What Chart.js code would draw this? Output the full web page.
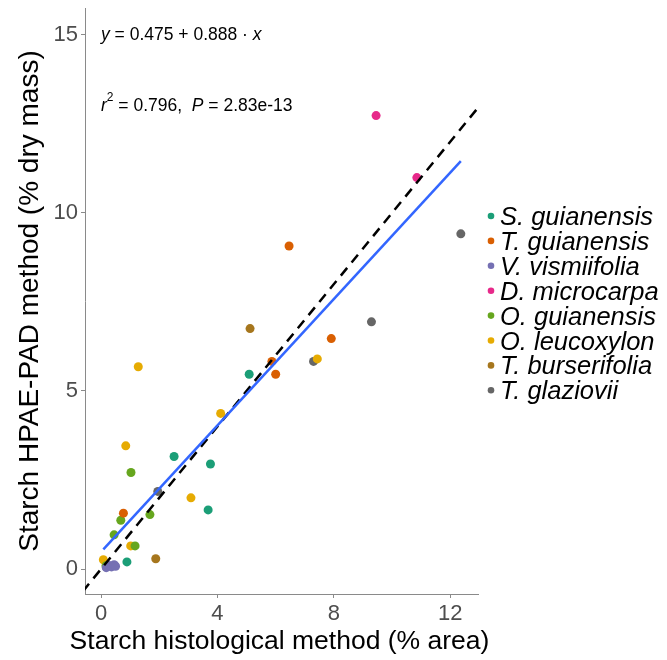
<!DOCTYPE html>
<html lang="en">

<head>
    <meta charset="UTF-8">
    <title>Starch methods</title>
    <script src="https://cdn.jsdelivr.net/npm/chart.js"></script>
    <style>
        body { margin: 0; background: #fff; }
    </style>
</head>

<body>
    <canvas id="myChart" width="667" height="660"></canvas>

    <script>
        // species names + colours (Dark2)
        const species = ['S. guianensis', 'T. guianensis', 'V. vismiifolia', 'D. microcarpa',
            'O. guianensis', 'O. leucoxylon', 'T. burserifolia', 'T. glaziovii'];
        const colors = ['#1B9E77', '#D95F02', '#7570B3', '#E7298A', '#66A61E', '#E6AB02', '#A6761D', '#666666'];

        // x = histological (% area), y = HPAE-PAD (% dry mass)
        const sGuianX = [2.51, 3.76, 3.68, 0.89, 5.09];
        const sGuianY = [3.16, 2.95, 1.66, 0.20, 5.47];
        const tGuianX = [6.46, 5.87, 6.00, 7.91, 0.77];
        const tGuianY = [9.07, 5.83, 5.47, 6.47, 1.57];
        const vVismX = [0.18, 0.28, 0.36, 0.45, 0.50];
        const vVismY = [0.04, 0.10, 0.06, 0.12, 0.08];
        const dMicroX = [9.45, 10.85];
        const dMicroY = [12.73, 10.99];
        const oGuianX = [1.03, 1.68, 0.68, 0.45, 1.17, 0.17];
        const oGuianY = [2.71, 1.53, 1.37, 0.96, 0.65, 0.09];
        const oLeucoX = [1.28, 0.85, 4.11, 3.09, 1.02, 0.08, 7.43];
        const oLeucoY = [5.68, 3.46, 4.37, 2.00, 0.65, 0.26, 5.90];
        const tBursX = [5.12, 1.88];
        const tBursY = [6.75, 0.29];
        const tGlazX = [12.36, 9.29, 7.30, 1.95];
        const tGlazY = [9.41, 6.94, 5.83, 2.18];

        const seriesX = [sGuianX, tGuianX, vVismX, dMicroX, oGuianX, oLeucoX, tBursX, tGlazX];
        const seriesY = [sGuianY, tGuianY, vVismY, dMicroY, oGuianY, oLeucoY, tBursY, tGlazY];

        // fitted line ends, and the 1:1 line
        const fitX = [0.08, 12.36];
        const fitY = [0.55, 11.45];
        const oneToOne = [-1, 16];

        const xTicks = [0, 4, 8, 12];
        const yTicks = [0, 5, 10, 15];

        const xTitle = 'Starch histological method (% area)';
        const yTitle = 'Starch HPAE-PAD method (% dry mass)';
        const eqLine1 = [['y', true], [' = 0.475 + 0.888 \u00b7 ', false], ['x', true]];
        const eqLine2 = [['r', true], ['2', false, 'sup'], [' = 0.796,  ', false], ['P', true], [' = 2.83e-13', false]];

        const axisGrey = '#8a8a8a';
        const tickGrey = '#4d4d4d';
        const fontFam = '"Liberation Sans", Arial, sans-serif';

        function zip(xs, ys) {
            return xs.map((x, i) => ({ x: x, y: ys[i] }));
        }

        const datasets = [
            {
                type: 'line',
                label: 'fit',
                data: zip(fitX, fitY),
                borderColor: '#3366FF',
                borderWidth: 2.5,
                pointRadius: 0,
                order: 0
            },
            {
                type: 'line',
                label: '1:1',
                data: zip(oneToOne, oneToOne),
                borderColor: '#000',
                borderWidth: 2.5,
                borderDash: [10, 7],
                pointRadius: 0,
                order: 0
            }
        ];
        species.forEach((name, i) => {
            datasets.push({
                label: name,
                data: zip(seriesX[i], seriesY[i]),
                backgroundColor: colors[i],
                borderWidth: 0,
                pointRadius: 4.5,
                order: 1
            });
        });

        // equation text, x title + legend drawn by hand
        const extras = {
            id: 'extras',
            afterDraw(chart) {
                const ctx = chart.ctx;
                const xs = chart.scales.x, ys = chart.scales.y;
                const area = chart.chartArea;

                function drawRich(parts, x, y) {
                    ctx.textBaseline = 'middle';
                    ctx.textAlign = 'left';
                    ctx.fillStyle = '#000';
                    parts.forEach(p => {
                        const sup = p[2] === 'sup';
                        ctx.font = (p[1] ? 'italic ' : '') + (sup ? '12px ' : '17.5px ') + fontFam;
                        ctx.fillText(p[0], x, sup ? y - 8 : y);
                        x += ctx.measureText(p[0]).width;
                    });
                }
                ctx.save();
                drawRich(eqLine1, xs.getPixelForValue(0), ys.getPixelForValue(15));
                drawRich(eqLine2, xs.getPixelForValue(0), ys.getPixelForValue(13));

                // x title (no maxWidth squeeze)
                ctx.font = '26.5px ' + fontFam;
                ctx.fillStyle = '#000';
                ctx.textAlign = 'center';
                ctx.textBaseline = 'middle';
                ctx.fillText(xTitle, (area.left + area.right) / 2 - 2, 642);

                // legend
                const lx = 491, ly0 = 216, step = 24.9;
                ctx.textAlign = 'left';
                species.forEach((name, i) => {
                    const y = ly0 + i * step;
                    ctx.fillStyle = colors[i];
                    ctx.beginPath();
                    ctx.arc(lx, y, 3.3, 0, Math.PI * 2);
                    ctx.fill();
                    ctx.fillStyle = '#000';
                    ctx.font = 'italic 25.5px ' + fontFam;
                    ctx.fillText(name, lx + 9, y + 2);
                });
                ctx.restore();
            }
        };

        const ctx = document.getElementById('myChart');
        new Chart(ctx, {
            type: 'scatter',
            data: { datasets: datasets },
            options: {
                responsive: false,
                animation: false,
                devicePixelRatio: 1,
                layout: { padding: { left: 0, right: 189, top: 8, bottom: 0 } },
                plugins: {
                    legend: { display: false },
                    tooltip: { enabled: false }
                },
                scales: {
                    x: {
                        type: 'linear',
                        min: -0.55,
                        max: 12.95,
                        afterBuildTicks: (s) => { s.ticks = xTicks.map(v => ({ value: v })); },
                        afterFit: (s) => { s.height = 66; s.paddingLeft = 0; s.paddingRight = 0; },
                        ticks: {
                            color: tickGrey,
                            font: { family: fontFam, size: 22 },
                            padding: 3,
                            maxRotation: 0,
                            callback: (v) => String(v)
                        },
                        grid: { drawOnChartArea: false, tickLength: 4, color: axisGrey },
                        border: { color: axisGrey, width: 1 },
                        title: { display: false }
                    },
                    y: {
                        type: 'linear',
                        min: -0.7,
                        max: 15.75,
                        afterBuildTicks: (s) => { s.ticks = yTicks.map(v => ({ value: v })); },
                        afterFit: (s) => { s.width = 85; s.paddingTop = 0; s.paddingBottom = 0; },
                        ticks: {
                            color: tickGrey,
                            font: { family: fontFam, size: 22 },
                            padding: 3,
                            callback: (v) => String(v)
                        },
                        grid: { drawOnChartArea: false, tickLength: 4, color: axisGrey },
                        border: { color: axisGrey, width: 1 },
                        title: {
                            display: true,
                            text: yTitle,
                            color: '#000',
                            font: { family: fontFam, size: 28 },
                            padding: { top: 13, bottom: 0 }
                        }
                    }
                }
            },
            plugins: [extras]
        });
    </script>
</body>

</html>
